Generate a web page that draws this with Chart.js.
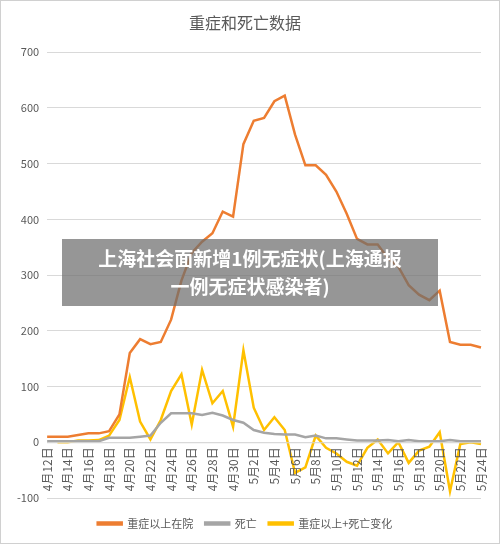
<!DOCTYPE html>
<html>
<head>
<meta charset="utf-8">
<script src="https://cdn.jsdelivr.net/npm/chart.js@4"></script>
<style>
  body { margin: 0; background: #fff; }
  #wrap { position: relative; width: 498px; height: 542px; border: 1px solid #d0d0d0; }
  #banner { position: absolute; left: 61px; top: 238px; width: 376px; height: 67px;
    background: rgba(110,110,110,0.72); color: #fff; font: bold 19px "Noto Sans CJK SC", sans-serif;
    text-align: center; line-height: 28px; padding-top: 5px; box-sizing: border-box; }
</style>
</head>
<body>
<div id="wrap">
<canvas id="c" width="498" height="542"></canvas>
<div id="banner">上海社会面新增1例无症状(上海通报<br>一例无症状感染者)</div>
</div>
<script>
const labels = [];
for (let d = 12; d <= 30; d++) labels.push('4月' + d + '日');
for (let d = 1; d <= 24; d++) labels.push('5月' + d + '日');

const severe = [10,10,10,13,16,16,20,50,160,185,176,180,220,290,340,360,375,414,405,535,577,582,612,622,552,497,497,480,450,410,365,355,355,330,315,282,265,255,272,180,175,175,170];
const deaths = [2,2,2,2,2,2,8,8,8,10,12,35,52,52,52,49,53,48,40,35,22,17,15,14,14,9,12,7,7,5,3,3,3,4,2,4,2,2,2,4,2,2,2];
const change = [null,0,0,3,3,4,12,40,117,37,5,40,92,122,32,130,70,92,28,165,62,22,45,22,-55,-45,12,-10,-20,-35,-42,-10,5,-20,0,-37,-15,-8,18,-88,-3,0,-3];

const font = { family: '"Noto Sans CJK SC", sans-serif', size: 11 };

// category labels sit just under the zero line, as in the original
const zeroLabels = {
  id: 'zeroLabels',
  afterDraw(chart) {
    const x = chart.scales.x, y = chart.scales.y, ctx = chart.ctx;
    const y0 = y.getPixelForValue(0);
    ctx.save();
    ctx.strokeStyle = '#d9d9d9';
    ctx.beginPath(); ctx.moveTo(x.left, y0 + 0.5); ctx.lineTo(x.right, y0 + 0.5); ctx.stroke();
    ctx.fillStyle = '#595959';
    ctx.font = '12px "Noto Sans CJK SC", sans-serif';
    ctx.textAlign = 'right';
    ctx.textBaseline = 'middle';
    labels.forEach((l, i) => {
      if (i % 2) return;
      ctx.save();
      ctx.translate(x.getPixelForValue(i), y0 + 5);
      ctx.rotate(-Math.PI / 2);
      ctx.fillText(l, 0, 0);
      ctx.restore();
    });
    ctx.restore();
  }
};

new Chart(document.getElementById('c'), {
  type: 'line',
  data: {
    labels: labels,
    datasets: [
      { label: '重症以上在院', data: severe, borderColor: '#ed7d31', borderWidth: 2.5, pointRadius: 0, tension: 0 },
      { label: '死亡', data: deaths, borderColor: '#a5a5a5', borderWidth: 2.5, pointRadius: 0, tension: 0 },
      { label: '重症以上+死亡变化', data: change, borderColor: '#ffc000', borderWidth: 2.5, pointRadius: 0, tension: 0 }
    ]
  },
  options: {
    responsive: false,
    animation: false,
    layout: { padding: { left: 8, right: 18, top: 6, bottom: 4 } },
    plugins: {
      title: { display: true, text: '重症和死亡数据', color: '#595959',
        font: { family: font.family, size: 16, weight: 'normal' }, padding: { top: 6, bottom: 20 } },
      legend: { position: 'bottom', labels: { boxWidth: 24, boxHeight: 2, color: '#595959', font: font, padding: 12 } }
    },
    scales: {
      y: {
        min: -100, max: 700,
        ticks: { stepSize: 100, color: '#595959', font: font, padding: 8 },
        grid: { color: '#d9d9d9', drawTicks: false },
        border: { display: false }
      },
      x: {
        offset: false,
        grid: { display: false },
        border: { display: false },
        ticks: { display: false }
      }
    }
  },
  plugins: [zeroLabels]
});
</script>
</body>
</html>
